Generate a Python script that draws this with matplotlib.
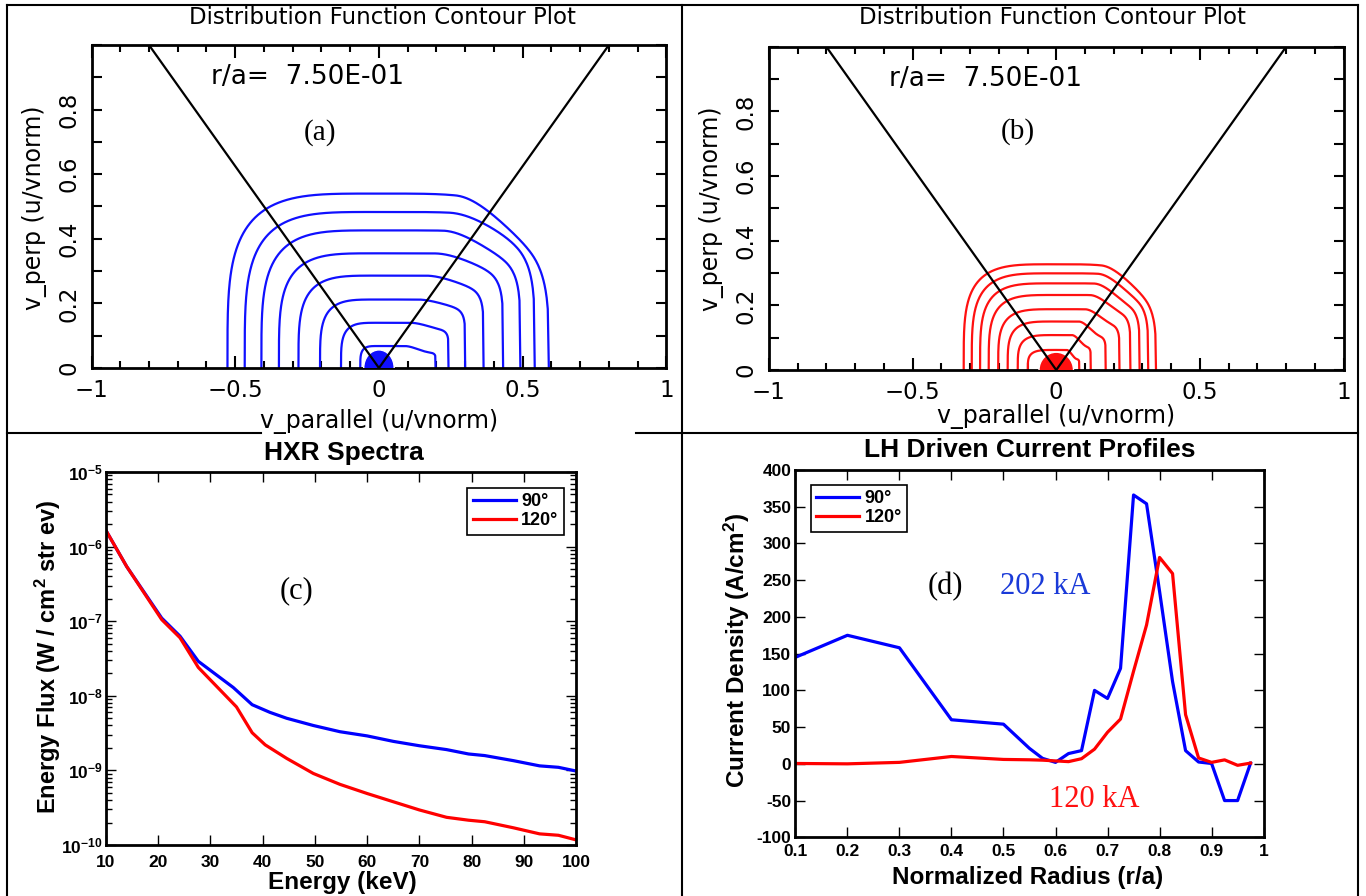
import numpy as np
import matplotlib
matplotlib.use("Agg")
import matplotlib.pyplot as plt
from matplotlib.patches import Ellipse
from matplotlib.lines import Line2D
from matplotlib.ticker import FixedLocator, MultipleLocator, LogLocator, NullFormatter

# ---- panel (a) / (b): distribution function contours (inner -> outer) ----
# each contour: left foot, top height, right foot, right shoulder height (u/vnorm)
a_left = [-0.065, -0.132, -0.205, -0.280, -0.348, -0.409, -0.467, -0.527]
a_top = [0.068, 0.140, 0.212, 0.286, 0.355, 0.426, 0.483, 0.540]
a_right = [0.197, 0.242, 0.300, 0.364, 0.432, 0.492, 0.542, 0.591]
a_shoulder = [0.050, 0.124, 0.196, 0.263, 0.325, 0.375, 0.440, 0.460]

b_left = [-0.099, -0.134, -0.169, -0.202, -0.235, -0.265, -0.294, -0.322]
b_top = [0.062, 0.108, 0.150, 0.188, 0.232, 0.268, 0.299, 0.327]
b_right = [0.080, 0.120, 0.172, 0.220, 0.258, 0.290, 0.320, 0.347]
b_shoulder = [0.035, 0.075, 0.110, 0.150, 0.190, 0.220, 0.250, 0.280]

# filled core near the origin (half width, height)
a_core = (0.053, 0.056)
b_core = (0.060, 0.055)

# resonance cone end points
cone_x = 0.8
cone_y = 1.0
radius_label = "r/a=  7.50E-01"

# ---- panel (c): HXR spectra ----
energy_90 = [10, 14, 20.7, 24.2, 27.7, 34.4, 38, 41.4, 44.6, 49.7, 54.8, 60, 65,
             70, 75.2, 79.4, 82.5, 88, 93, 96.6, 100]
flux_90 = [1.66e-6, 5.4e-7, 1.10e-7, 6.3e-8, 2.9e-8, 1.29e-8, 7.6e-9, 6.0e-9,
           5.0e-9, 4.0e-9, 3.3e-9, 2.9e-9, 2.45e-9, 2.14e-9, 1.9e-9, 1.66e-9,
           1.58e-9, 1.35e-9, 1.15e-9, 1.10e-9, 9.8e-10]
energy_120 = [10, 14, 20.7, 24.2, 27.7, 35, 38, 40.5, 44.6, 49.7, 54.8, 60, 65,
              70, 75.2, 79.4, 82.5, 88, 93, 96.6, 100]
flux_120 = [1.66e-6, 5.4e-7, 1.05e-7, 6.0e-8, 2.4e-8, 7.1e-9, 3.2e-9, 2.2e-9,
            1.45e-9, 9.1e-10, 6.5e-10, 4.9e-10, 3.8e-10, 2.95e-10, 2.35e-10,
            2.15e-10, 2.05e-10, 1.7e-10, 1.41e-10, 1.35e-10, 1.17e-10]

# ---- panel (d): LH driven current profiles ----
radius = [0.1, 0.2, 0.3, 0.4, 0.5, 0.55, 0.575, 0.6, 0.625, 0.65, 0.675, 0.7,
          0.725, 0.75, 0.775, 0.8, 0.825, 0.85, 0.875, 0.9, 0.925, 0.95, 0.975]
j_90 = [145, 175, 158, 60, 54, 21, 7.5, 2, 14, 18, 100, 89, 130, 366, 354, 235,
        112, 18, 2.5, 0.5, -50, -50, 1]
j_120 = [0.5, 0, 2, 10, 6, 5.5, 5, 4, 3, 7, 20, 43, 61, 126, 189, 281, 259, 67,
         8, 2, 5.4, -2, 1]

series_labels = ["90°", "120°"]
current_90 = "202 kA"
current_120 = "120 kA"

SANS = "Liberation Sans"
SERIF = "Liberation Serif"
plt.rcParams["mathtext.fontset"] = "custom"
plt.rcParams["mathtext.rm"] = "Liberation Sans:bold"
plt.rcParams["mathtext.default"] = "regular"

W, H = 1366, 896
fig = plt.figure(figsize=(W / 100, H / 100), dpi=100)


def px_box(x0, y0, x1, y1):
    return [x0 / W, 1 - y1 / H, (x1 - x0) / W, (y1 - y0) / H]


def contour_shape(left, top, right, shoulder, q, p=4.0, n=160):
    # rounded left quarter, flat top, stepped-down squarish right shoulder
    t = np.linspace(0, np.pi / 2, n)
    xl = left * np.cos(t) ** (2 / p)
    yl = top * np.sin(t) ** (2 / p)
    u = np.linspace(0, 1, n)[1:]
    s = np.clip((u - 0.45) / 0.45, 0, 1)
    s = s * s * (3 - 2 * s)
    h = top + (shoulder - top) * s
    yr = h * np.clip(1 - u ** q, 0, None) ** (1 / q)
    return np.r_[xl, right * u], np.r_[yl, yr]


def velocity_panel(ax, lefts, tops, rights, shoulders, core, color, tag, tag_xy):
    sharp = np.linspace(10, 4, len(lefts))
    for L, T, R, S, q in zip(lefts, tops, rights, shoulders, sharp):
        x, y = contour_shape(L, T, R, S, q)
        ax.plot(x, y, color=color, lw=1.6)
    ax.add_patch(Ellipse((0, 0), 2 * core[0], 2 * core[1], fc=color, ec="white",
                         lw=1.0, zorder=3))
    for sgn in (-1, 1):
        ax.plot([0, sgn * cone_x], [0, cone_y], color="k", lw=1.6, zorder=4)
    ax.set_xlim(-1, 1)
    ax.set_ylim(0, 1)
    ax.xaxis.set_major_locator(FixedLocator([-1, -0.5, 0, 0.5, 1]))
    ax.set_xticklabels(["\u22121", "\u22120.5", "0", "0.5", "1"])
    ax.xaxis.set_minor_locator(MultipleLocator(0.1))
    ax.yaxis.set_major_locator(FixedLocator([0, 0.2, 0.4, 0.6, 0.8]))
    ax.set_yticklabels(["0", "0.2", "0.4", "0.6", "0.8"], rotation=90, va="center")
    ax.yaxis.set_minor_locator(MultipleLocator(0.1))
    ax.tick_params(which="both", direction="in", top=True, right=True, width=1.5,
                   labelsize=16.5)
    ax.tick_params(axis="x", which="major", length=9, pad=8)
    ax.tick_params(axis="x", which="minor", length=5)
    ax.tick_params(axis="y", which="both", length=7, pad=8)
    for sp in ax.spines.values():
        sp.set_linewidth(2)
    ax.text(-0.583, 0.90, radius_label, fontsize=19, va="center", ha="left")
    ax.text(tag_xy[0], tag_xy[1], tag, fontsize=21, family=SERIF, ha="center",
            va="center")


ax_a = fig.add_axes(px_box(91.5, 45, 666.4, 368))
velocity_panel(ax_a, a_left, a_top, a_right, a_shoulder, a_core, "#1010ff", "(a)",
               (-0.205, 0.73))
ax_b = fig.add_axes(px_box(768.8, 46.7, 1343.7, 370))
velocity_panel(ax_b, b_left, b_top, b_right, b_shoulder, b_core, "#ff1010", "(b)",
               (-0.135, 0.738))

for cx, lx, ly in [(382, 379, 421.7), (1052, 1056, 416.7)]:
    fig.text(cx / W, 1 - 18 / H, "Distribution Function Contour Plot", fontsize=16.5,
             ha="center", va="center")
    fig.text(lx / W, 1 - ly / H, "v_parallel (u/vnorm)", fontsize=17, ha="center",
             va="center")
fig.text(34.8 / W, 1 - 208 / H, "v_perp (u/vnorm)", fontsize=17, rotation=90,
         ha="center", va="center")
fig.text(711.3 / W, 1 - 209 / H, "v_perp (u/vnorm)", fontsize=17, rotation=90,
         ha="center", va="center")


def style_bottom(ax):
    ax.tick_params(which="both", direction="in", top=True, right=True, width=1.0,
                   labelsize=12.5)
    ax.tick_params(which="major", length=7)
    ax.tick_params(which="minor", length=4)
    for lab in ax.get_xticklabels() + ax.get_yticklabels():
        lab.set_fontweight("bold")
        lab.set_family(SANS)
    for sp in ax.spines.values():
        sp.set_linewidth(2)


# ---- (c) ----
ax_c = fig.add_axes(px_box(105.8, 472, 576.2, 845))
ax_c.plot(energy_90, flux_90, color="#0000ff", lw=2.3, label=series_labels[0])
ax_c.plot(energy_120, flux_120, color="#ff0000", lw=2.3, label=series_labels[1])
ax_c.set_yscale("log")
ax_c.set_xlim(10, 100)
ax_c.set_ylim(1e-10, 1e-5)
ax_c.set_xticks(np.arange(10, 101, 10))
ax_c.set_xticklabels([str(v) for v in range(10, 101, 10)])
ax_c.yaxis.set_major_locator(FixedLocator([10.0 ** k for k in range(-10, -4)]))
ax_c.set_yticklabels([r"$10^{%d}$" % k for k in range(-10, -4)])
ax_c.yaxis.set_minor_locator(LogLocator(base=10, subs=np.arange(2, 10)))
ax_c.yaxis.set_minor_formatter(NullFormatter())
style_bottom(ax_c)
ax_c.tick_params(axis="y", pad=2)
ax_c.tick_params(axis="x", pad=7)
leg = ax_c.legend(loc="upper right", bbox_to_anchor=(0.974, 0.957), borderaxespad=0,
                  fancybox=False, edgecolor="k", framealpha=1, handlelength=2.4,
                  handletextpad=0.3, labelspacing=0.1, borderpad=0.3,
                  prop={"family": SANS, "weight": "bold", "size": 13})
leg.get_frame().set_linewidth(1.2)
ax_c.text(46.4, 2.6e-7, "(c)", fontsize=22, family=SERIF, ha="center", va="center")
fig.text(344 / W, 1 - 453 / H, "HXR Spectra", fontsize=19, weight="bold",
         family=SANS, ha="center", va="center")
fig.text(342.8 / W, 1 - 882 / H, "Energy (keV)", fontsize=17.5, weight="bold",
         family=SANS, ha="center", va="center")
fig.text(48 / W, 1 - 657 / H, "Energy Flux (W / cm$^2$ str ev)", fontsize=17,
         weight="bold", family=SANS, rotation=90, ha="center", va="center")

# ---- (d) ----
ax_d = fig.add_axes(px_box(795.4, 470, 1263.6, 837.3))
ax_d.plot(radius, j_90, color="#0000ff", lw=2.3, label=series_labels[0])
ax_d.plot(radius, j_120, color="#ff0000", lw=2.3, label=series_labels[1])
ax_d.set_xlim(0.1, 1)
ax_d.set_ylim(-100, 400)
xt = np.round(np.arange(0.1, 1.01, 0.1), 1)
ax_d.set_xticks(xt)
ax_d.set_xticklabels([("%g" % v) for v in xt])
yt = np.arange(-100, 401, 50)
ax_d.set_yticks(yt)
ax_d.set_yticklabels([str(v) for v in yt])
style_bottom(ax_d)
ax_d.tick_params(axis="y", pad=3)
ax_d.tick_params(axis="x", pad=5)
leg = ax_d.legend(loc="upper left", bbox_to_anchor=(0.0325, 0.959), borderaxespad=0,
                  fancybox=False, edgecolor="k", framealpha=1, handlelength=2.4,
                  handletextpad=0.3, labelspacing=0.1, borderpad=0.3,
                  prop={"family": SANS, "weight": "bold", "size": 13})
leg.get_frame().set_linewidth(1.2)
ax_d.text(0.389, 241, "(d)", fontsize=22, family=SERIF, ha="center", va="center")
ax_d.text(0.581, 241, current_90, fontsize=22, family=SERIF, color="#1a3ad8",
          ha="center", va="center")
ax_d.text(0.675, -49, current_120, fontsize=22, family=SERIF, color="#ff1010",
          ha="center", va="center")
fig.text(1029.3 / W, 1 - 450 / H, "LH Driven Current Profiles", fontsize=19,
         weight="bold", family=SANS, ha="center", va="center")
fig.text(1028 / W, 1 - 877 / H, "Normalized Radius (r/a)", fontsize=17.5,
         weight="bold", family=SANS, ha="center", va="center")
fig.text(737.4 / W, 1 - 650.7 / H, "Current Density (A/cm$^2$)", fontsize=17.5,
         weight="bold", family=SANS, rotation=90, ha="center", va="center")

# ---- panel frame lines ----
for (x0, y0, x1, y1) in [(6.5, 5, 1358, 5), (6.5, 5, 6.5, 896), (1358, 5, 1358, 896),
                         (682, 5, 682, 896), (6.5, 433, 261, 433),
                         (636, 433, 1358, 433)]:
    fig.add_artist(Line2D([x0 / W, x1 / W], [1 - y0 / H, 1 - y1 / H],
                          transform=fig.transFigure, color="k", lw=1.5))

fig.savefig("out.png", dpi=100)
